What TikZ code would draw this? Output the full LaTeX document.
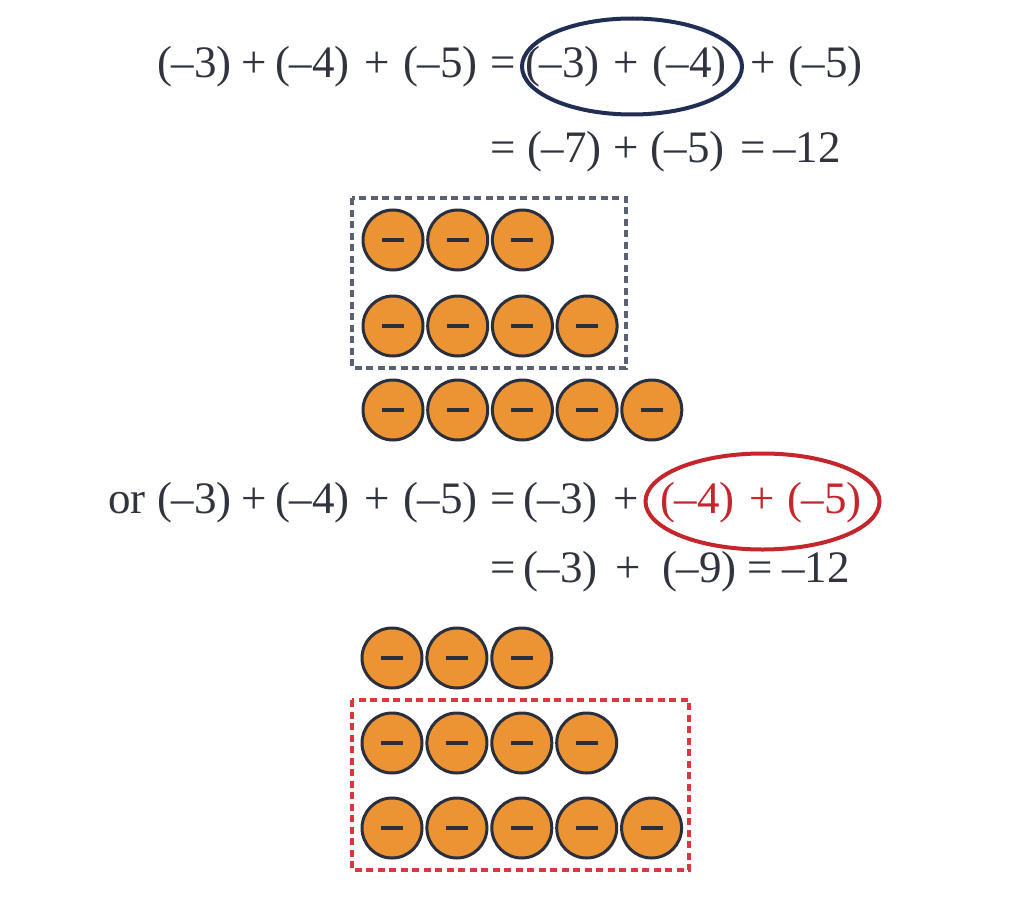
\documentclass[tikz,border=0pt]{standalone}
\usepackage{fontspec}
\setmainfont{Liberation Serif}
\definecolor{txt}{HTML}{30343F}
\definecolor{redc}{HTML}{C4262C}
\definecolor{navy}{HTML}{1F2E52}
\definecolor{chipfill}{HTML}{EC9434}
\definecolor{chipline}{HTML}{2A2F3E}
\definecolor{boxgray}{HTML}{5A6174}
\definecolor{boxred}{HTML}{DA383E}
\tikzset{
  eq/.style={anchor=base west, inner sep=0pt, outer sep=0pt,
    font=\fontsize{45}{50}\selectfont, text=txt},
  redeq/.style={eq, text=redc},
  chip/.style={circle, draw=chipline, line width=3pt, fill=chipfill,
    minimum size=60pt, inner sep=0pt,
    path picture={\draw[chipline, line width=3.5pt]
      ([xshift=-11pt]path picture bounding box.center) --
      ([xshift=11pt]path picture bounding box.center);}},
  ring/.style={line width=4pt},
  dashbox/.style={line width=3.4pt, dash pattern=on 7pt off 4.5pt}
}
\begin{document}
\begin{tikzpicture}[x=1pt, y=-1pt]
\useasboundingbox[fill=white] (0,0) rectangle (1024,904);

% line 1
\foreach \x/\t [count=\i] in {157/{(–3)}, 241/{+}, 275/{(–4)}, 364/{+}, 403/{(–5)},
  490/{=}, 525/{(–3)}, 613/{+}, 652/{(–4)}, 750/{+}, 788/{(–5)}}
  \node[eq] (la\i) at (\x,78) {\t};
% line 2
\foreach \x/\t [count=\i] in {490/{=}, 527/{(–7)}, 613/{+}, 650/{(–5)}, 740/{=}, 773/{–12}}
  \node[eq] (lb\i) at (\x,163) {\t};
% line 3
\node[eq] (lcor) at (108,513) {or};
\foreach \x/\t [count=\i] in {157/{(–3)}, 241/{+}, 275/{(–4)}, 364/{+}, 403/{(–5)},
  490/{=}, 523/{(–3)}, 613/{+}}
  \node[eq] (lc\i) at (\x,513) {\t};
\foreach \x/\t [count=\i] in {660/{(–4)}, 749/{+}, 787/{(–5)}}
  \node[redeq] (lr\i) at (\x,513) {\t};
% line 4
\foreach \x/\t [count=\i] in {490/{=}, 523/{(–3)}, 615/{+}, 662/{(–9)}, 747/{=}, 782/{–12}}
  \node[eq] (ld\i) at (\x,582) {\t};

% rings
\draw[ring, navy] (632,66.5) ellipse [x radius=110pt, y radius=48pt];
\draw[ring, redc] (762.5,501.5) ellipse [x radius=117pt, y radius=48pt];

% block A
\foreach \c/\n [count=\r] in {240/3, 326/4, 410/5}
  \foreach \k in {1,...,\n}
    \node[chip] (a\r\k) at ({393+64.7*(\k-1)},\c) {};
\coordinate (bxa1) at (352,198);
\coordinate (bxa2) at (626,368);
\draw[dashbox, boxgray] (bxa1) rectangle (bxa2);

% block B
\foreach \c/\n [count=\r] in {658/3, 743/4, 828/5}
  \foreach \k in {1,...,\n}
    \node[chip] (b\r\k) at ({392+64.9*(\k-1)},\c) {};
\coordinate (bxb1) at (352,700);
\coordinate (bxb2) at (689,870);
\draw[dashbox, boxred] (bxb1) rectangle (bxb2);
\end{tikzpicture}
\end{document}
